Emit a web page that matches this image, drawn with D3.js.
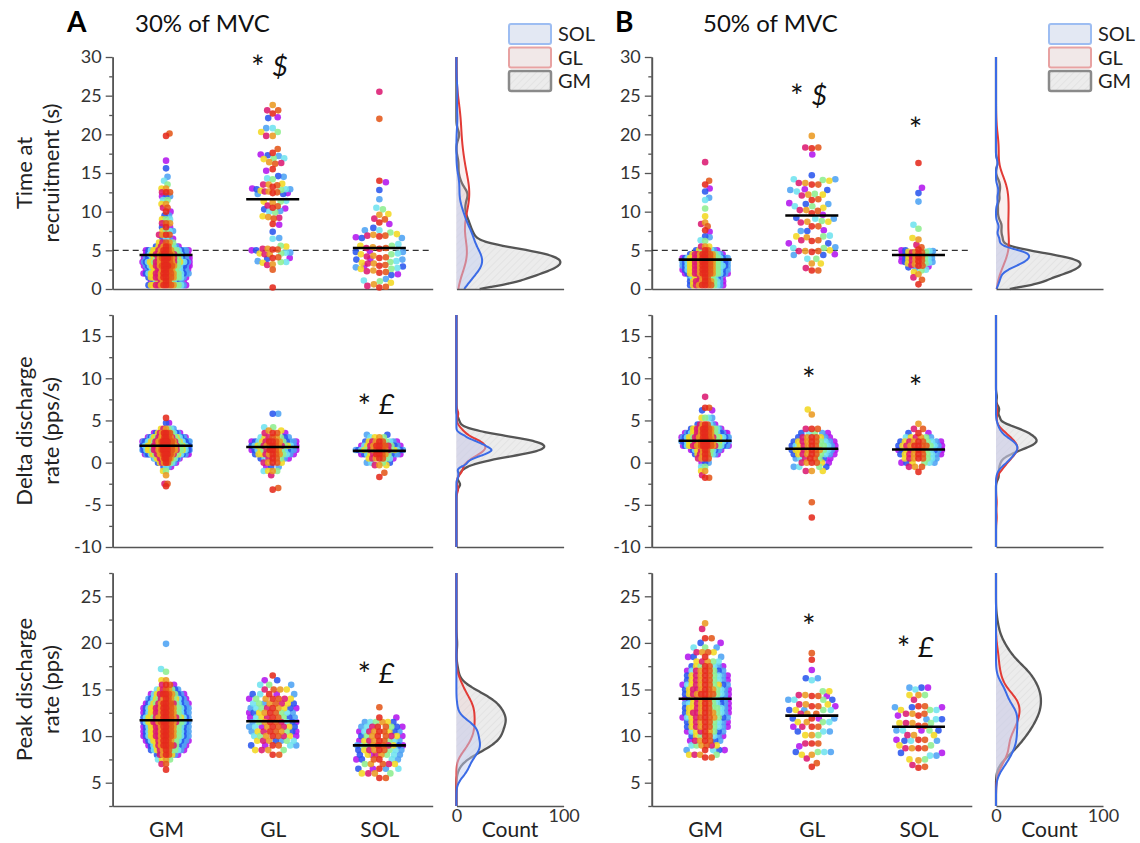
<!DOCTYPE html>
<html>
<head>
<meta charset="utf-8">
<script src="https://cdn.jsdelivr.net/npm/d3@7"></script>
<style>
body { margin: 0; background: #fff; }
svg { font-family: Lato, "Noto Sans", sans-serif; }
</style>
</head>
<body>
<svg id="grafic" width="1140" height="843"></svg>
<script>
// ------------------DADES------------------
const categories = ["GM", "GL", "SOL"];
const lletres = ["A", "B"];
const titols = ["30% of MVC", "50% of MVC"];
const etiquetesFiles = [["Time at", "recruitment (s)"], ["Delta discharge", "rate (pps/s)"], ["Peak discharge", "rate (pps)"]];
const dominiTime = [0, 30];
const dominiDelta = [-10, 17.5];
const dominiPeak = [2.5, 27.5];
const ticksTime = [0, 5, 10, 15, 20, 25, 30];
const ticksDelta = [-10, -5, 0, 5, 10, 15];
const ticksPeak = [5, 10, 15, 20, 25];
const ticksCount = [0, 100];
const llegenda = ["SOL", "GL", "GM"];

// valors llegits de la figura: un numero = un punt, [valor, n] = n punts
const time30GM = [[0.5,16],[1,14],[1.5,16],[2,20],[2.5,22],[3,24],[3.5,25],[4,24],[4.5,22],[5,18],[5.5,10],[6,5],[6.5,4],[7,4],[7.5,4],[8,3],[8.5,3],[9,3],[9.5,2],[10,2],[10.5,2],[11,2],[11.5,2],[12,3],[12.5,3],[13,2],[13.5,1],[14,1],[14.5,1],15.6,16.6,19.8,20.1];
const time30GL = [23.8, 23.1, 23.1, 22.7, 22.1, 22.2, 20.8, 20.8, 20.3, 20.3, 19.8, 19.8, 18.1, 17.6, 17.4, 17.3, 17.2, 16.9, 16.9, 16.8, 16.3, 16.2, 16.4, 15.5, 15.3, 14.5, 14.6, 14.3, 14.2, 13.6, 13.5, 13.4, 13.5, 13.2, 12.9, 12.9, 12.8, 13.0, 12.9, 12.6, 12.6, 12.5, 12.7, 12.4, 12.3, 12.4, 12.3, 11.3, 11.2, 11.4, 11.3, 10.8, 10.7, 10.4, 10.5, 10.3, 10.0, 10.1, 9.9, 9.3, 9.2, 9.1, 9.4, 8.4, 8.3, 7.4, 6.6, 6.5, 5.6, 5.5, 5.1, 5.2, 5.0, 5.1, 5.2, 5.0, 4.6, 4.7, 4.5, 4.6, 4.7, 4.5, 4.1, 4.0, 4.0, 3.9, 3.5, 3.6, 3.4, 3.5, 3.2, 3.1, 2.5, 0.2];
const time30SOL = [25.5, 22.0, 14.0, 13.8, 12.8, 11.6, 10.5, 10.3, 9.7, 9.6, 9.1, 9.0, 8.6, 8.4, 7.9, 7.6, 7.6, 7.3, 7.1, 7.0, 6.9, 6.9, 6.8, 6.7, 6.6, 6.6, 5.8, 5.6, 5.6, 5.4, 5.3, 5.3, 5.2, 4.9, 4.8, 4.8, 4.6, 4.5, 4.5, 4.3, 4.2, 4.1, 4.0, 3.9, 3.8, 3.8, 3.6, 3.5, 3.4, 3.3, 3.3, 3.1, 3.0, 3.0, 2.9, 2.8, 2.7, 2.6, 2.6, 2.4, 2.3, 2.2, 2.1, 1.9, 1.8, 1.3, 1.1, 1.0, 0.8, 0.6, 0.4, 0.3, 0.2];
const time50GM = [[0.5,12],[1,12],[1.5,14],[2,18],[2.5,20],[3,22],[3.5,22],[4,20],[4.5,14],[5,8],[5.5,3],6.2,6.3,6.7,6.8,7.4,7.6,8.1,8.4,8.6,9.4,10.4,11.5,11.8,12.6,13.0,13.5,14.0,16.4];
const time50GL = [19.8, 18.3, 18.3, 18.2, 17.4, 14.7, 14.2, 14.2, 14.1, 14.0, 13.7, 13.7, 13.5, 13.5, 12.8, 12.8, 12.9, 12.6, 12.2, 12.2, 12.3, 12.1, 11.5, 11.6, 11.0, 11.0, 11.1, 10.7, 10.7, 10.5, 10.2, 10.2, 10.1, 9.8, 9.6, 9.1, 9.1, 9.2, 8.7, 8.7, 8.8, 8.6, 8.1, 8.1, 7.5, 7.5, 7.6, 6.8, 6.8, 6.9, 6.7, 6.3, 6.3, 6.2, 5.9, 5.9, 5.3, 5.3, 5.4, 4.9, 4.9, 5.0, 4.8, 4.9, 4.4, 4.4, 4.5, 3.9, 3.9, 3.3, 3.3, 2.7, 2.4, 2.4];
const time50SOL = [16.3, 13.1, 12.4, 11.3, 8.3, 7.8, 6.6, 6.4, 5.7, 5.4, 5.1, 5.0, 5.0, 4.9, 4.9, 4.8, 4.8, 4.8, 4.7, 4.7, 4.6, 4.6, 4.5, 4.5, 4.4, 4.4, 4.3, 4.3, 4.2, 4.2, 4.1, 4.1, 4.0, 4.0, 3.9, 3.9, 3.8, 3.8, 3.7, 3.7, 3.6, 3.6, 3.5, 3.5, 3.4, 3.3, 3.3, 3.2, 3.1, 3.0, 3.0, 2.9, 2.8, 2.7, 2.5, 2.4, 2.2, 1.9, 1.5, 1.2, 0.6];
const delta30GM = [[5.3,1],[4.7,2],[4,6],[3.5,14],[3,26],[2.5,36],[2,40],[1.5,38],[1,30],[0.5,18],[0,10],[-0.5,4],[-1,2],[-1.5,1],[-2.5,2],[-2.8,1]];
const delta30GL = [[5.8,2],[4.2,2],[3.8,2],[3.5,4],[3,8],[2.5,14],[2,16],[1.5,16],[1,12],[0.5,8],[0,5],[-0.5,3],[-1,4],[-1.5,1],[-3,1],[-3.2,1]];
const delta30SOL = [[3.3,2],[3,4],[2.5,10],[2,14],[1.5,18],[1,14],[0.5,8],[0,4],[-0.3,3],[-1.2,1],[-1.7,1]];
const delta50GM = [[7.8,1],[6.5,2],[6.2,2],[5.3,4],[4.5,8],[4,16],[3.5,22],[3,26],[2.5,28],[2,24],[1.5,16],[1,10],[0.5,4],[0,3],[-0.5,2],[-1,2],[-1.5,1],[-1.8,2]];
const delta50GL = [[6.3,1],[5.7,1],[4,3],[3.5,5],[3,8],[2.5,10],[2,12],[1.5,12],[1,10],[0.5,8],[0,6],[-0.5,4],[-1,3],[-4.7,1],[-6.5,1]];
const delta50SOL = [[4.6,1],[4,2],[3.5,3],[3,6],[2.5,10],[2,12],[1.5,12],[1,10],[0.5,8],[0,6],[-0.5,3],[-1.1,1]];
const peak30GM = [[19.9,1],[17.2,1],[16.9,1],[16,2],[15.5,4],[15,8],[14.5,12],[14,16],[13.5,18],[13,20],[12.5,20],[12,22],[11.5,22],[11,20],[10.5,20],[10,20],[9.5,18],[9,16],[8.5,12],[8,8],[7.5,4],[7,2],[6.4,1]];
const peak30GL = [[16.5,1],[16,2],[15.5,3],[15,4],[14.5,5],[14,7],[13.5,8],[13,9],[12.5,9],[12,9],[11.5,9],[11,9],[10.5,9],[10,8],[9.5,7],[9,6],[8.5,4],[8,2]];
const peak30SOL = [[13.1,1],[12,2],[11.5,6],[11,8],[10.5,9],[10,8],[9.5,9],[9,10],[8.5,9],[8,8],[7.5,6],[7,5],[6.5,5],[6,4],[5.5,2]];
const peak50GM = [[22.1,1],[21.5,1],[20.5,2],[20,2],[19.5,3],[19,4],[18.5,4],[18,5],[17.5,8],[17,9],[16.5,10],[16,10],[15.5,11],[15,12],[14.5,12],[14,12],[13.5,12],[13,12],[12.5,12],[12,11],[11.5,10],[11,10],[10.5,9],[10,8],[9.5,7],[9,6],[8.5,5],[8,4],[7.7,2]];
const peak50GL = [18.9, 18.2, 17.1, 16.2, 16.2, 16.0, 14.8, 14.8, 14.4, 14.4, 14.3, 14.3, 14.3, 13.9, 13.9, 13.9, 13.9, 13.4, 13.4, 13.4, 13.2, 13.2, 13.2, 12.8, 12.8, 12.8, 12.8, 12.8, 12.4, 12.4, 12.4, 11.9, 11.9, 11.9, 11.9, 11.5, 11.5, 11.5, 11.5, 11.0, 11.0, 11.0, 11.0, 10.5, 10.5, 10.5, 10.1, 10.1, 10.1, 9.2, 9.2, 9.2, 8.9, 8.3, 8.3, 8.3, 8.3, 8.0, 8.0, 7.6, 7.1, 6.7];
const peak50SOL = [15.2, 15.2, 15.2, 15.0, 14.4, 14.4, 14.4, 13.9, 13.2, 13.2, 13.1, 13.1, 13.1, 12.8, 12.8, 12.8, 12.4, 12.4, 12.4, 12.2, 12.2, 11.8, 11.8, 11.8, 11.4, 11.4, 11.4, 11.4, 11.1, 11.1, 10.6, 10.6, 10.6, 10.6, 10.6, 10.1, 10.1, 10.1, 9.6, 9.6, 9.6, 9.5, 9.5, 9.5, 9.0, 9.0, 8.7, 8.7, 8.7, 8.7, 8.2, 8.2, 7.9, 7.9, 7.5, 7.5, 7.4, 6.9, 6.7, 6.6];

// linies horitzontals (GM, GL, SOL)
const mitjanaTime30 = [4.4, 11.6, 5.3];
const mitjanaTime50 = [3.8, 9.5, 4.4];
const mitjanaDelta30 = [2.0, 1.85, 1.4];
const mitjanaDelta50 = [2.6, 1.65, 1.55];
const mitjanaPeak30 = [11.7, 11.6, 9.0];
const mitjanaPeak50 = [14.0, 12.2, 11.0];

// maxim de les corbes de densitat (Count), GM, GL, SOL
const maxCountTime30 = [97, 12, 24];
const maxCountTime50 = [79, 12, 31];
const maxCountDelta30 = [82, 27, 33];
const maxCountDelta50 = [38, 20, 20];
const maxCountPeak30 = [46, 17, 22];
const maxCountPeak50 = [42, 22, 20];

// significacio: [categoria, simbol, valor del centre de l'asterisc]
const signTime30 = [["GL", "$", 29.5]];
const signTime50 = [["GL", "$", 25.7], ["SOL", "", 21.5]];
const signDelta30 = [["SOL", "£", 7.5]];
const signDelta50 = [["GL", "", 10.6], ["SOL", "", 9.7]];
const signPeak30 = [["SOL", "£", 17.3]];
const signPeak50 = [["GL", "", 22.5], ["SOL", "£", 20.1]];

// ------------------VARIABLES------------------
const svg = d3.select("#grafic");
const panells = [
    { main: [112.7, 432.7], side: [456.4, 563.6], legX: 509, lletraX: 67, titolX: 135 },
    { main: [651.8, 971.8], side: [996, 1103], legX: 1049, lletraX: 615, titolX: 703 }
];
const files = [
    { dom: dominiTime, ticks: ticksTime, y: [289, 57], dash: 5, dades: [[time30GM, time30GL, time30SOL], [time50GM, time50GL, time50SOL]], mitj: [mitjanaTime30, mitjanaTime50], maxc: [maxCountTime30, maxCountTime50], sign: [signTime30, signTime50] },
    { dom: dominiDelta, ticks: ticksDelta, y: [547, 315], dash: null, dades: [[delta30GM, delta30GL, delta30SOL], [delta50GM, delta50GL, delta50SOL]], mitj: [mitjanaDelta30, mitjanaDelta50], maxc: [maxCountDelta30, maxCountDelta50], sign: [signDelta30, signDelta50] },
    { dom: dominiPeak, ticks: ticksPeak, y: [806, 573], dash: null, dades: [[peak30GM, peak30GL, peak30SOL], [peak50GM, peak50GL, peak50SOL]], mitj: [mitjanaPeak30, mitjanaPeak50], maxc: [maxCountPeak30, maxCountPeak50], sign: [signPeak30, signPeak50] }
];
const colorsParticipant = ["#e52a1c", "#e4581a", "#dc1a72", "#eb9a22", "#f2d822", "#8eee90", "#6fe3ef", "#4da3f4", "#2a56ee", "#b316ee"];
const estilCorba = {
    GM: { stroke: "#555", fill: "url(#ratllat)", w: 2.3 },
    GL: { stroke: "#e23b36", fill: "rgba(236,190,190,0.25)", w: 2 },
    SOL: { stroke: "#3b6be6", fill: "rgba(196,208,242,0.5)", w: 2 }
};
const estilLlegenda = {
    SOL: { fill: "#e3e8f3", stroke: "#9dbdf2", w: 2 },
    GL: { fill: "#f1e8e8", stroke: "#e8a2a2", w: 2 },
    GM: { fill: "#e9e9e9", stroke: "#8a8a8a", w: 2.5 }
};

// ------------------FUNCIONS------------------
//desplega les entrades (numero o [valor, n]) en una llista de valors
function desplegar(entrades) {
    let sortida = [];
    entrades.forEach(function (d) {
        if (typeof d === "number") {
            sortida.push(d);
        } else {
            for (let i = 0; i < d[1]; i++) sortida.push(d[0]);
        }
    });
    return sortida.sort((a, b) => a - b);
}

//col·loca els punts en eixam; l'espai depen de quants punts hi ha a la mateixa alçada
function posarEixam(valors, y, meitat) {
    const punts = valors.map((v, k) => ({ v: v, y: y(v), p: k % 10, k: k, x: 0 }));
    punts.forEach(function (pt) {
        pt.n = punts.filter(q => Math.abs(q.y - pt.y) < 2.5).length;
        pt.clau = pt.p + ((pt.k * 7) % 5) * 0.6;
    });
    const nMax = d3.max(punts, d => d.n);
    const a = 0.3;
    punts.forEach(function (pt) {
        pt.d = Math.max(1, Math.min(6.2, 2 * meitat * Math.pow(nMax, a - 1) * Math.pow(pt.n, -a)));
    });
    const ordre = punts.slice().sort((a, b) => a.clau - b.clau || a.k - b.k);
    const cubs = new Map();
    for (const pt of ordre) {
        const b = Math.floor(pt.y / 8);
        const veins = [].concat(cubs.get(b - 1) || [], cubs.get(b) || [], cubs.get(b + 1) || []);
        let millor = null, millorR = -1;
        for (let s = 0; s <= meitat; s += 0.5) {
            const cands = s === 0 ? [0] : (pt.k % 2 ? [s, -s] : [-s, s]);
            for (const x of cands) {
                let r = Infinity;
                for (const q of veins) {
                    const dm = Math.min(pt.d, q.d);
                    const dist = Math.sqrt((q.x - x) ** 2 + (q.y - pt.y) ** 2);
                    r = Math.min(r, dist / dm);
                }
                if (r > millorR) { millorR = r; millor = x; }
                if (r >= 1) break;
            }
            if (millorR >= 1) break;
        }
        pt.x = millor;
        if (!cubs.has(b)) cubs.set(b, []);
        cubs.get(b).push(pt);
    }
    return ordre;
}

//densitat gaussiana (amplada de banda de Silverman) escalada al maxim llegit
function densitat(valors, dom, maxim) {
    const sd = d3.deviation(valors);
    const iqr = (d3.quantile(valors, 0.75) - d3.quantile(valors, 0.25)) / 1.34;
    const bw = 0.9 * Math.min(sd, iqr) * Math.pow(valors.length, -0.2);
    const pas = (dom[1] - dom[0]) / 220;
    const graella = d3.range(dom[0], dom[1] + pas / 2, pas);
    const dens = graella.map(g => [g, d3.sum(valors, v => Math.exp(-0.5 * ((g - v) / bw) ** 2))]);
    const m = d3.max(dens, d => d[1]);
    return dens.map(d => [d[0], d[1] / m * maxim]);
}

function estilEix(g) {
    g.selectAll(".domain").attr("stroke", "#555").attr("stroke-width", 1.6);
    g.selectAll(".tick line").attr("stroke", "#555").attr("stroke-width", 1.3);
    g.selectAll("text").attr("fill", "#333").attr("font-family", "Lato, 'Noto Sans', sans-serif");
}

function dibuixarFila(fila, f, pi) {
    const pan = panells[pi];
    const y = d3.scaleLinear().domain(fila.dom).range(fila.y);
    const x = d3.scalePoint().domain(categories).range(pan.main).padding(0.5);
    const xc = d3.scaleLinear().domain([0, 100]).range(pan.side);
    const g = svg.append("g");
    const ultima = f === files.length - 1;

    // eix y amb ticks menors
    const menors = d3.range(fila.dom[0], fila.dom[1] + 0.01, 2.5).filter(v => fila.ticks.indexOf(v) < 0);
    g.append("g").attr("transform", `translate(${pan.main[0]},0)`)
        .call(d3.axisLeft(y).tickValues(menors).tickSize(3.5).tickSizeOuter(0).tickFormat(""))
        .call(estilEix);
    g.append("g").attr("transform", `translate(${pan.main[0]},0)`)
        .call(d3.axisLeft(y).tickValues(fila.ticks).tickSize(7).tickSizeOuter(0).tickPadding(4).tickFormat(d => String(d)))
        .call(estilEix)
        .selectAll("text").attr("font-size", 18);

    // eix x
    const ex = g.append("g").attr("transform", `translate(0,${fila.y[0]})`)
        .call(d3.axisBottom(x).tickSize(0).tickSizeOuter(0).tickPadding(16).tickValues(ultima ? categories : []))
        .call(estilEix);
    ex.selectAll("text").attr("font-size", 21).attr("fill", "#222");

    // linia discontinua
    if (fila.dash !== null) {
        g.append("line").attr("x1", pan.main[0]).attr("x2", pan.main[1])
            .attr("y1", y(fila.dash)).attr("y2", y(fila.dash))
            .attr("stroke", "#333").attr("stroke-width", 1.3).attr("stroke-dasharray", "6,4");
    }

    // punts en eixam
    categories.forEach(function (cat, ci) {
        const punts = posarEixam(desplegar(fila.dades[pi][ci]), y, 23.5);
        g.append("g").selectAll("circle").data(punts.slice().reverse()).join("circle")
            .attr("cx", d => x(cat) + d.x)
            .attr("cy", d => d.y)
            .attr("r", 3.3)
            .attr("fill", d => colorsParticipant[d.p])
            .attr("fill-opacity", 0.88);
        g.append("line")
            .attr("x1", x(cat) - 26.5).attr("x2", x(cat) + 26.5)
            .attr("y1", y(fila.mitj[pi][ci])).attr("y2", y(fila.mitj[pi][ci]))
            .attr("stroke", "#000").attr("stroke-width", 2.6);
    });

    // simbols de significacio
    fila.sign[pi].forEach(function (s) {
        const cx = x(s[0]);
        const fs = 32;
        const yb = y(s[2]) + 0.57 * fs;
        g.append("text").attr("x", s[1] ? cx - 15 : cx - 3).attr("y", yb)
            .attr("text-anchor", "middle").attr("font-size", fs).attr("fill", "#111").text("*");
        if (s[1]) {
            g.append("text").attr("x", cx + 7.5).attr("y", y(s[2]) + 15)
                .attr("text-anchor", "middle").attr("font-size", 27).attr("font-style", "italic")
                .attr("fill", "#111").text(s[1]);
        }
    });

    // panell lateral de densitat
    categories.forEach(function (cat, ci) {
        const dens = densitat(desplegar(fila.dades[pi][ci]), fila.dom, fila.maxc[pi][ci]);
        const est = estilCorba[cat];
        g.append("path").datum(dens)
            .attr("d", d3.area().x0(xc(0)).x1(d => xc(d[1])).y(d => y(d[0])).curve(d3.curveBasis))
            .attr("fill", est.fill).attr("stroke", "none");
        g.append("path").datum(dens)
            .attr("d", d3.line().x(d => xc(d[1])).y(d => y(d[0])).curve(d3.curveBasis))
            .attr("fill", "none").attr("stroke", est.stroke).attr("stroke-width", est.w);
    });
    g.append("g").attr("transform", `translate(0,${fila.y[0]})`)
        .call(d3.axisBottom(xc).tickValues(ultima ? ticksCount : []).tickSize(0).tickSizeOuter(0).tickPadding(3))
        .call(estilEix)
        .selectAll("text").attr("font-size", 18);
    if (ultima) {
        g.append("text").attr("x", (pan.side[0] + pan.side[1]) / 2).attr("y", 837)
            .attr("text-anchor", "middle").attr("font-size", 21).attr("fill", "#222").text("Count");
    }

    // etiqueta de l'eix y (nomes a la columna A)
    if (pi === 0) {
        const yc = (fila.y[0] + fila.y[1]) / 2;
        [32, 59].forEach(function (bx, li) {
            g.append("text").attr("transform", `translate(${bx},${yc}) rotate(-90)`)
                .attr("text-anchor", "middle").attr("font-size", 22).attr("fill", "#222")
                .text(etiquetesFiles[f][li]);
        });
    }
}

function dibuixarCapcalera(pi) {
    const pan = panells[pi];
    svg.append("text").attr("x", pan.lletraX).attr("y", 32).attr("font-size", 28).attr("font-weight", "bold")
        .attr("fill", "#000").text(lletres[pi]);
    svg.append("text").attr("x", pan.titolX).attr("y", 32).attr("font-size", 24)
        .attr("fill", "#111").text(titols[pi]);
    llegenda.forEach(function (nom, i) {
        const est = estilLlegenda[nom];
        svg.append("rect").attr("x", pan.legX).attr("y", 24 + i * 23.5).attr("width", 42).attr("height", 20)
            .attr("rx", 2).attr("fill", nom === "GM" ? "url(#ratllat)" : est.fill)
            .attr("stroke", est.stroke).attr("stroke-width", est.w);
        svg.append("text").attr("x", pan.legX + 49).attr("y", 24 + i * 23.5 + 17)
            .attr("font-size", 20).attr("fill", "#222").text(nom);
    });
}

// ------------------MAIN------------------
const defs = svg.append("defs");
const pat = defs.append("pattern").attr("id", "ratllat").attr("patternUnits", "userSpaceOnUse")
    .attr("width", 5).attr("height", 5).attr("patternTransform", "rotate(45)");
pat.append("rect").attr("width", 5).attr("height", 5).attr("fill", "#ececec");
pat.append("line").attr("x1", 0).attr("y1", 0).attr("x2", 0).attr("y2", 5)
    .attr("stroke", "#d6d6d6").attr("stroke-width", 0.8);

panells.forEach(function (p, pi) {
    dibuixarCapcalera(pi);
    files.forEach(function (fila, f) {
        dibuixarFila(fila, f, pi);
    });
});
</script>
</body>
</html>
